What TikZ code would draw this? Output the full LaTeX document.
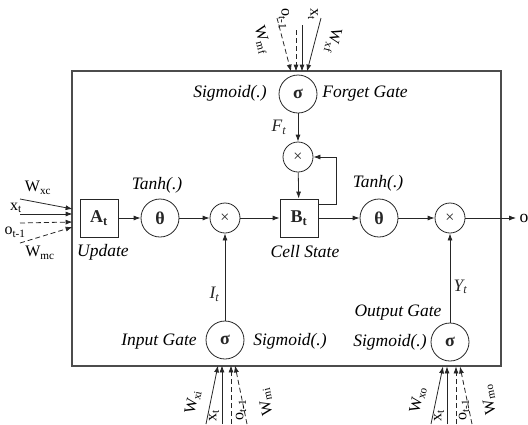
\documentclass[tikz,border=0pt]{standalone}
\usepackage{fontspec}
\setmainfont{Liberation Serif}
\usetikzlibrary{arrows.meta,positioning}

\begin{document}
\begin{tikzpicture}[x=1pt,y=-1pt,
  ln/.style={line width=0.8pt,black!85},
  arr/.style={ln,-{Latex[length=7pt,width=5pt]}},
  dsh/.style={arr,dash pattern=on 5pt off 3pt},
  blk/.style={draw,ln,minimum size=38pt,inner sep=0pt,font=\fontsize{18}{20}\selectfont\bfseries},
  fn/.style={draw,circle,ln,minimum size=38pt,inner sep=0pt,font=\fontsize{18}{20}\selectfont\bfseries},
  mul/.style={draw,circle,ln,minimum size=30pt,inner sep=0pt,font=\fontsize{16}{18}\selectfont},
  lab/.style={font=\fontsize{17.5}{20}\selectfont\itshape},
  inp/.style={font=\fontsize{16}{18}\selectfont,inner sep=0pt}]
\useasboundingbox (0,0) rectangle (528,424);
\draw[line width=1.2pt,black!70] (72,71) rectangle (501,366);

% main path
\node[blk] (A) at (99,218) {A\textsubscript{t}};
\node[fn] (th1) at (160,218) {θ};
\node[mul] (m1) at (225,218) {×};
\node[blk] (B) at (299,218) {B\textsubscript{t}};
\node[fn] (th2) at (379,218) {θ};
\node[mul] (m2) at (450,218) {×};
\node[font=\fontsize{17.5}{20}\selectfont] (out) at (524,218) {o};

% gates
\node[fn] (sf) at (298,94) {σ};
\node[mul] (m3) at (298,157) {×};
\node[fn] (si) at (225,340) {σ};
\node[fn] (so) at (450,342) {σ};

\node[lab] (tanh1) at (157,185) {Tanh(.)};
\node[lab] (tanh2) at (378,183) {Tanh(.)};
\node[lab] (upd) at (103,252) {Update};
\node[lab] (cs) at (305,252) {Cell State};
\node[lab] (sgf) at (230,93) {Sigmoid(.)};
\node[lab] (fg) at (365,94) {Forget Gate};
\node[lab] (ig) at (159,342) {Input Gate};
\node[lab] (sgi) at (290,341) {Sigmoid(.)};
\node[lab] (og) at (398,313) {Output Gate};
\node[lab] (sgo) at (390,342) {Sigmoid(.)};

\draw[arr] (A) -- (th1);
\draw[arr] (th1) -- (m1);
\draw[arr] (m1) -- (B);
\draw[arr] (B) -- (th2);
\draw[arr] (th2) -- (m2);
\draw[arr] (m2) -- (out);
\draw[arr] (sf) -- (m3) node[lab,midway,left=8pt] {F\textsubscript{t}};
\draw[arr] (m3) -- (B);
\draw[arr] ([yshift=14pt]B.east) -- ++(18,0) |- (m3);
\draw[arr] (si) -- (m1) node[lab,pos=0.3,left=2pt] {I\textsubscript{t}};
\draw[arr] (so) -- (m2) node[lab,pos=0.4,right=0pt] {Y\textsubscript{t}};

% inputs of the update block
\coordinate (lxc) at (20,199);
\coordinate (lx) at (20,214);
\coordinate (lo) at (20,223);
\coordinate (lmc) at (20,243);
\draw[arr] (lxc) -- ([shift={(-7pt,9pt)}]A.west);
\draw[arr] (lx) -- ([shift={(-7pt,4pt)}]A.west);
\draw[dsh] (lo) -- ([shift={(-7pt,-4pt)}]A.west);
\draw[dsh] (lmc) -- ([shift={(-7pt,-9pt)}]A.west);
\node[inp] (wxc) at (38,188) {W\textsubscript{xc}};
\node[inp] (xc) at (16,208) {x\textsubscript{t}};
\node[inp] (oc) at (15,232) {o\textsubscript{t-1}};
\node[inp] (wmc) at (40,253) {W\textsubscript{mc}};

% inputs of the forget gate
\coordinate (tmf) at (277,18);
\coordinate (to) at (296,30);
\coordinate (tx) at (302,25);
\coordinate (txf) at (321,18);
\draw[dsh] (tmf) -- ([shift={(-7pt,3pt)}]sf.north);
\draw[dsh] (to) -- ([shift={(-2pt,3pt)}]sf.north);
\draw[arr] (tx) -- ([shift={(4pt,3pt)}]sf.north);
\draw[arr] (txf) -- ([shift={(9pt,3pt)}]sf.north);
\node[inp,rotate=-75] (wmf) at (262,40) {W\textsubscript{mf}};
\node[inp,rotate=-90] (of) at (284,19) {o\textsubscript{t-1}};
\node[inp,rotate=-90] (xf) at (313,14) {x\textsubscript{t}};
\node[inp,rotate=-105] (wxf) at (333,41) {W\textsubscript{xf}};

% inputs of the input gate
\coordinate (bxi) at (206,424);
\coordinate (bx) at (222,424);
\coordinate (bo) at (231,424);
\coordinate (bmi) at (247,424);
\draw[arr] (bxi) -- ([shift={(-7pt,-6pt)}]si.south);
\draw[arr] (bx) -- ([shift={(-3pt,-6pt)}]si.south);
\draw[dsh] (bo) -- ([shift={(6pt,-6pt)}]si.south);
\draw[dsh] (bmi) -- ([shift={(10pt,-6pt)}]si.south);
\node[inp,rotate=78] (wxi) at (193,402) {W\textsubscript{xi}};
\node[inp,rotate=90] (xi) at (214,416) {x\textsubscript{t}};
\node[inp,rotate=90] (oi) at (241,410) {o\textsubscript{t-1}};
\node[inp,rotate=102] (wmi) at (266,402) {W\textsubscript{mi}};

% inputs of the output gate
\coordinate (bxo) at (431,424);
\coordinate (bx2) at (447,424);
\coordinate (bo2) at (456,424);
\coordinate (bmo) at (472,424);
\draw[arr] (bxo) -- ([shift={(-7pt,-5pt)}]so.south);
\draw[arr] (bx2) -- ([shift={(-3pt,-5pt)}]so.south);
\draw[dsh] (bo2) -- ([shift={(6pt,-5pt)}]so.south);
\draw[dsh] (bmo) -- ([shift={(10pt,-5pt)}]so.south);
\node[inp,rotate=78] (wxo) at (418,400) {W\textsubscript{xo}};
\node[inp,rotate=90] (xo) at (439,416) {x\textsubscript{t}};
\node[inp,rotate=90] (oo) at (464,410) {o\textsubscript{t-1}};
\node[inp,rotate=102] (wmo) at (489,400) {W\textsubscript{mo}};
\end{tikzpicture}
\end{document}
